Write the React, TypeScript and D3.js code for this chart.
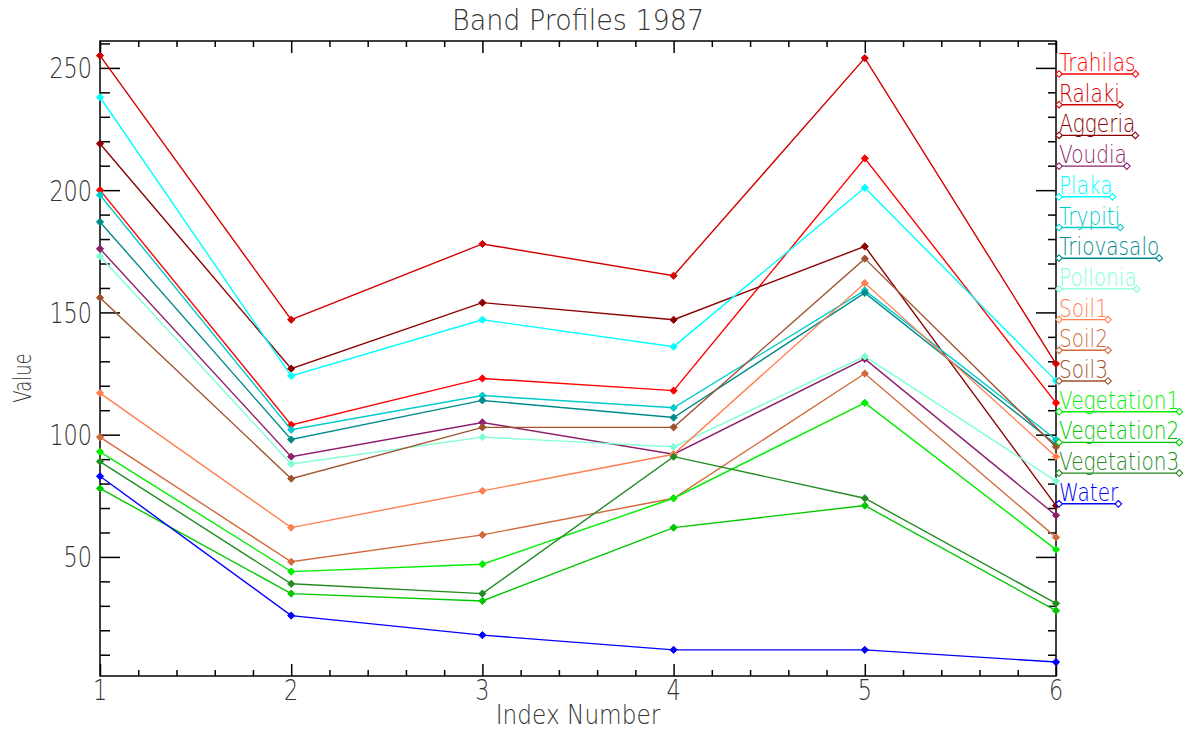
import React, { useEffect, useRef } from 'react'
import * as d3 from 'd3'

// band index on the x axis
const indexNumbers = [1, 2, 3, 4, 5, 6]

const siteNames = [
    'Trahilas', 'Ralaki', 'Aggeria', 'Voudia', 'Plaka', 'Trypiti', 'Triovasalo', 'Pollonia',
    'Soil1', 'Soil2', 'Soil3', 'Vegetation1', 'Vegetation2', 'Vegetation3', 'Water'
]

const siteColors = [
    '#ff0000', '#d40000', '#8b0000', '#8e1f6e', '#00ffff', '#00cccc', '#008b8b', '#7fffd4',
    '#ff7f50', '#d2693a', '#a0522d', '#00ee00', '#00c800', '#228b22', '#0000ff'
]

// values
const trahilas = [200, 104, 123, 118, 213, 113]
const ralaki = [255, 147, 178, 165, 254, 129]
const aggeria = [219, 127, 154, 147, 177, 71]
const voudia = [176, 91, 105, 92, 131, 67]
const plaka = [238, 124, 147, 136, 201, 122]
const trypiti = [198, 102, 116, 111, 159, 98]
const triovasalo = [187, 98, 114, 107, 158, 96]
const pollonia = [173, 88, 99, 95, 132, 81]
const soil1 = [117, 62, 77, 92, 162, 91]
const soil2 = [99, 48, 59, 74, 125, 58]
const soil3 = [156, 82, 103, 103, 172, 95]
const vegetation1 = [93, 44, 47, 74, 113, 53]
const vegetation2 = [78, 35, 32, 62, 71, 28]
const vegetation3 = [89, 39, 35, 91, 74, 31]
const water = [83, 26, 18, 12, 12, 7]

const seriesValues = [
    trahilas, ralaki, aggeria, voudia, plaka, trypiti, triovasalo, pollonia,
    soil1, soil2, soil3, vegetation1, vegetation2, vegetation3, water
]

const yMajorTicks = [50, 100, 150, 200, 250]
const yMinorTicks = d3.range(10, 261, 10).filter(v => v % 50 !== 0)
const xMinorTicks = d3.range(1, 6, 0.2).map(v => +v.toFixed(1)).filter(v => v % 1 !== 0)

const FONT = '"DejaVu Sans", sans-serif'
const TEXT_FILL = '#333'

const App = () => {
    const ref = useRef<SVGSVGElement>(null)

    useEffect(() => {
        const svg = d3.select(ref.current)
        svg.selectAll('*').remove()

        const left = 100
        const right = 1056
        const top = 41
        const bottom = 676

        const x = d3.scaleLinear().domain([1, 6]).range([left, right])
        const y = d3.scaleLinear().domain([1.3, 261]).range([bottom, top])

        const label = (txt: string, tx: number, ty: number, size: number, anchor: string, squeeze = 0.77, rotate = 0) =>
            svg.append('text')
                .attr('transform', `translate(${tx},${ty}) rotate(${rotate}) scale(${squeeze},1)`)
                .attr('text-anchor', anchor)
                .attr('font-family', FONT)
                .attr('font-weight', 200)
                .attr('font-size', size)
                .attr('fill', TEXT_FILL)
                .text(txt)

        const tickStyle = (g: any) => {
            g.select('.domain').remove()
            g.selectAll('line').attr('stroke', '#000').attr('stroke-width', 1.5)
            g.selectAll('text').remove()
        }

        // ticks on all four sides, pointing into the plot
        svg.append('g').attr('transform', `translate(0,${bottom})`)
            .call(d3.axisBottom(x).tickValues(indexNumbers).tickSize(-12)).call(tickStyle)
        svg.append('g').attr('transform', `translate(0,${bottom})`)
            .call(d3.axisBottom(x).tickValues(xMinorTicks).tickSize(-6)).call(tickStyle)
        svg.append('g').attr('transform', `translate(0,${top})`)
            .call(d3.axisTop(x).tickValues(indexNumbers).tickSize(-12)).call(tickStyle)
        svg.append('g').attr('transform', `translate(0,${top})`)
            .call(d3.axisTop(x).tickValues(xMinorTicks).tickSize(-6)).call(tickStyle)
        svg.append('g').attr('transform', `translate(${left},0)`)
            .call(d3.axisLeft(y).tickValues(yMajorTicks).tickSize(-20)).call(tickStyle)
        svg.append('g').attr('transform', `translate(${left},0)`)
            .call(d3.axisLeft(y).tickValues(yMinorTicks).tickSize(-10)).call(tickStyle)
        svg.append('g').attr('transform', `translate(${right},0)`)
            .call(d3.axisRight(y).tickValues(yMajorTicks).tickSize(-20)).call(tickStyle)
        svg.append('g').attr('transform', `translate(${right},0)`)
            .call(d3.axisRight(y).tickValues(yMinorTicks).tickSize(-8)).call(tickStyle)

        svg.append('rect')
            .attr('x', left).attr('y', top)
            .attr('width', right - left).attr('height', bottom - top)
            .attr('fill', 'none').attr('stroke', '#000').attr('stroke-width', 1.5)

        indexNumbers.forEach(v => label(String(v), x(v), 700, 29, 'middle'))
        yMajorTicks.forEach(v => label(String(v), 92, y(v) + 10.5, 29, 'end'))

        label('Band Profiles 1987', (left + right) / 2, 30, 29, 'middle', 0.93)
        label('Index Number', (left + right) / 2, 724, 27, 'middle', 0.86)
        label('Value', 31, 378, 25, 'middle', 0.72, -90)

        const line = d3.line<number>()
            .x((d, i) => x(indexNumbers[i]))
            .y(d => y(d))

        const diamond = (r: number) => `M0,${-r}L${r},0L0,${r}L${-r},0Z`

        seriesValues.forEach((vals, s) => {
            const g = svg.append('g')
            g.append('path')
                .attr('d', line(vals))
                .attr('fill', 'none')
                .attr('stroke', siteColors[s])
                .attr('stroke-width', 1.4)
            g.selectAll('path.pt')
                .data(vals)
                .join('path')
                .attr('class', 'pt')
                .attr('d', diamond(3.6))
                .attr('transform', (d, i) => `translate(${x(indexNumbers[i])},${y(d)})`)
                .attr('fill', siteColors[s])
                .attr('stroke', siteColors[s])
                .attr('stroke-width', 1)
        })

        // legend: name with an underline sample ending in diamonds
        const legendX = 1059
        const legendSqueeze = 0.82
        siteNames.forEach((name, i) => {
            const ly = 74 + i * 30.7
            const t = svg.append('text')
                .attr('transform', `translate(${legendX},${ly - 3}) scale(${legendSqueeze},1)`)
                .attr('font-family', FONT)
                .attr('font-weight', 200)
                .attr('font-size', 24.5)
                .attr('fill', siteColors[i])
                .text(name)
            const w = (t.node() as SVGTextElement).getComputedTextLength() * legendSqueeze
            svg.append('line')
                .attr('x1', legendX).attr('x2', legendX + w)
                .attr('y1', ly).attr('y2', ly)
                .attr('stroke', siteColors[i]).attr('stroke-width', 1.4)
            ;[legendX, legendX + w].forEach(px => {
                svg.append('path')
                    .attr('d', diamond(3.3))
                    .attr('transform', `translate(${px},${ly})`)
                    .attr('fill', '#fff')
                    .attr('stroke', siteColors[i])
                    .attr('stroke-width', 1.1)
            })
        })
    }, [])

    return (
        <svg ref={ref} width={1195} height={733}
            style={{ position: 'absolute', left: 0, top: 0, background: '#fff' }} />
    )
}

export default App
